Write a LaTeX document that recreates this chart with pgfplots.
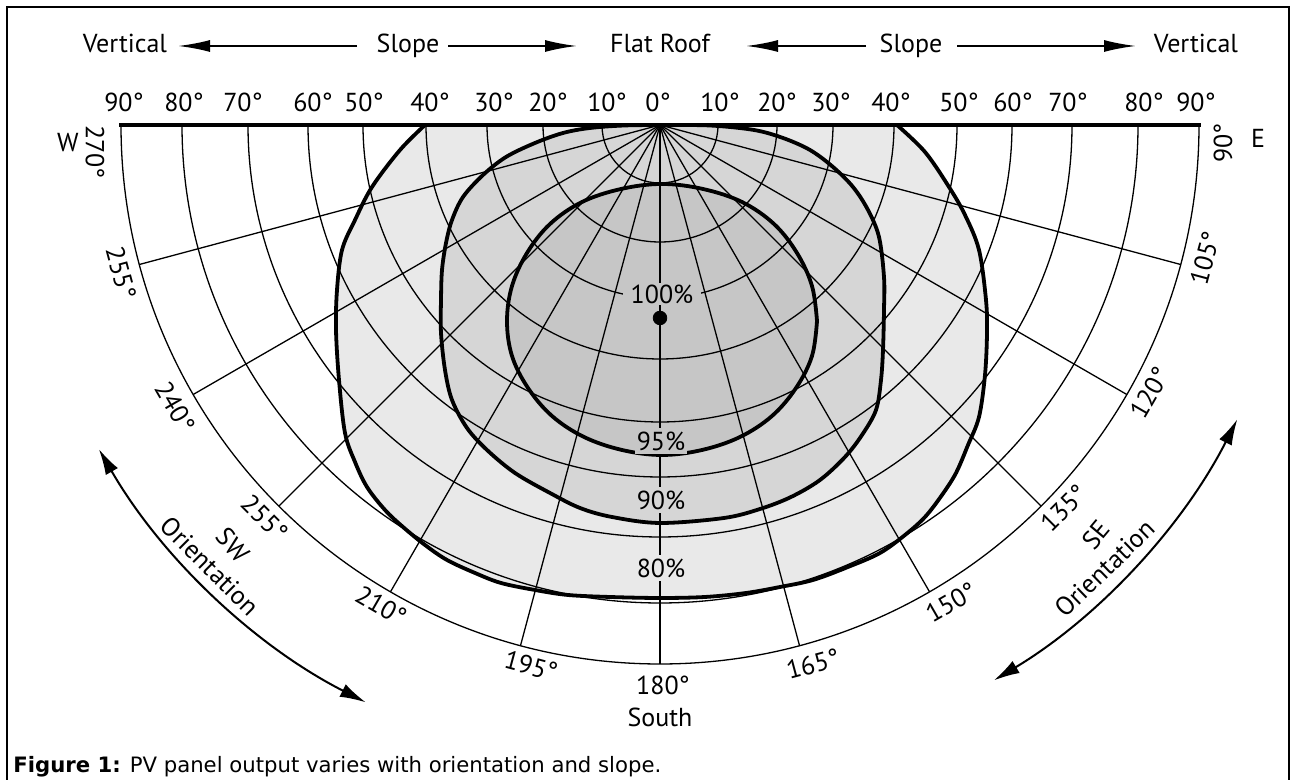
\documentclass[border=0pt]{standalone}
\usepackage{fontspec}
\setmainfont{PT Sans}
\newfontfamily\capfont{DejaVu Sans}
\usepackage{pgfplots}
\pgfplotsset{compat=1.18}
\usetikzlibrary{arrows.meta}
\definecolor{c80}{gray}{0.915}
\definecolor{c90}{gray}{0.84}
\definecolor{c95}{gray}{0.775}
\begin{document}
\begin{tikzpicture}[
  gridline/.style={black, line width=0.65pt},
  lab/.style={font=\fontsize{13}{15}\selectfont, inner sep=1pt},
]
\begin{axis}[
  x=0.5pt, y=0.5pt,
  xmin=-660, xmax=636, ymin=-655, ymax=125,
  enlargelimits=false, hide axis, clip=false,
]
% shaded regions with outlines
\addplot[draw=black, line width=1.9pt, fill=c80, smooth, tension=0.55] coordinates {
(-235,0) (-260,-25) (-288,-62) (-305,-95) (-318,-125) (-323,-165) (-324,-205) (-321,-255) (-315,-308) (-305,-337) (-293,-362) (-275,-385) (-257,-402) (-235,-420) (-213,-435) (-185,-448) (-159,-458) (-125,-465) (-92,-470) (-50,-472) (0,-473) (45,-472) (86,-468) (120,-462) (153,-455) (188,-442) (220,-428) (245,-410) (265,-392) (282,-370) (296,-348) (308,-320) (319,-292) (325,-250) (327,-208) (326,-175) (319,-125) (305,-90) (289,-62) (265,-27) (237,0)
} -- cycle;
\addplot[draw=black, line width=1.9pt, fill=c90, smooth, tension=0.55] coordinates {
(0,0) (-36,-0.5) (-70,-3) (-97,-8) (-125,-18) (-154,-32) (-177,-50) (-197,-72) (-208,-95) (-214,-118) (-218,-145) (-219,-175) (-219,-208) (-215,-245) (-208,-275) (-193,-303) (-173,-325) (-145,-348) (-110,-368) (-80,-383) (-48,-392) (0,-398) (64,-393) (100,-384) (131,-372) (160,-355) (185,-332) (202,-310) (216,-285) (221,-255) (223,-225) (224,-185) (224,-152) (219,-112) (208,-85) (193,-62) (173,-42) (150,-25) (123,-13) (94,-5) (50,-0.5) (0,0)
} -- cycle;
\addplot[draw=black, line width=1.9pt, fill=c95, smooth, tension=0.6] coordinates {
(157,-196) (152,-161) (137,-128) (114,-99) (82,-77) (43,-64) (2,-59) (-39,-64) (-78,-77) (-110,-99) (-133,-128) (-148,-161) (-153,-196) (-148,-231) (-132,-263) (-108,-291) (-76,-312) (-38,-325) (2,-330) (42,-325) (80,-312) (112,-291) (136,-263) (152,-231) (157,-196)
} -- cycle;
% grid: slope circles and orientation rays
\pgfplotsinvokeforeach{58,117,173,234,297,352,412,478,539}{
  \draw[gridline] (axis cs:-#1,0) arc[start angle=180, end angle=360, radius=#1*0.5pt];
}
\pgfplotsinvokeforeach{-15,-30,-45,-60,-75,-90,-105,-120,-135,-150,-165}{
  \draw[gridline] (axis cs:0,0) -- ++(#1:269.5pt);
}
% top line
\draw[black, line width=2pt] (axis cs:-541,0) -- (axis cs:541,0);
% centre dot
\addplot[only marks, mark=*, mark size=3.4pt, black] coordinates {(0,-193)};
% percentage labels
\node[lab, fill=c95, inner xsep=4pt] at (axis cs:2,-169) {100\%};
\node[lab, fill=c95, inner ysep=2pt] at (axis cs:1,-316) {95\%};
\node[lab, fill=c90, inner ysep=2pt] at (axis cs:1,-375) {90\%};
\node[lab, fill=c80, inner ysep=2pt] at (axis cs:1,-443) {80\%};
% title row
\node[lab, anchor=base] at (axis cs:-535,72) {Vertical};
\node[lab, anchor=base] at (axis cs:-252,72) {Slope};
\node[lab, anchor=base] at (axis cs:0,72) {Flat Roof};
\node[lab, anchor=base] at (axis cs:251,72) {Slope};
\node[lab, anchor=base] at (axis cs:536,72) {Vertical};
\draw[line width=1pt, -{Latex[length=16pt,width=6pt]}] (axis cs:-303,79) -- (axis cs:-482,79);
\draw[line width=1pt, -{Latex[length=16pt,width=6pt]}] (axis cs:-212,79) -- (axis cs:-83,79);
\draw[line width=1pt, -{Latex[length=16pt,width=6pt]}] (axis cs:206,79) -- (axis cs:86,79);
\draw[line width=1pt, -{Latex[length=16pt,width=6pt]}] (axis cs:297,79) -- (axis cs:476,79);
% slope tick labels
\node[lab, anchor=base] at (axis cs:-536,13) {90°};
\node[lab, anchor=base] at (axis cs:-476,13) {80°};
\node[lab, anchor=base] at (axis cs:-417,13) {70°};
\node[lab, anchor=base] at (axis cs:-347,13) {60°};
\node[lab, anchor=base] at (axis cs:-296,13) {50°};
\node[lab, anchor=base] at (axis cs:-230,13) {40°};
\node[lab, anchor=base] at (axis cs:-166,13) {30°};
\node[lab, anchor=base] at (axis cs:-112,13) {20°};
\node[lab, anchor=base] at (axis cs:-53,13) {10°};
\node[lab, anchor=base] at (axis cs:-2,13) {0°};
\node[lab, anchor=base] at (axis cs:60,13) {10°};
\node[lab, anchor=base] at (axis cs:117,13) {20°};
\node[lab, anchor=base] at (axis cs:171,13) {30°};
\node[lab, anchor=base] at (axis cs:231,13) {40°};
\node[lab, anchor=base] at (axis cs:299,13) {50°};
\node[lab, anchor=base] at (axis cs:353,13) {60°};
\node[lab, anchor=base] at (axis cs:408,13) {70°};
\node[lab, anchor=base] at (axis cs:484,13) {80°};
\node[lab, anchor=base] at (axis cs:536,13) {90°};
% orientation labels
\node[lab] at (axis cs:-592,-18) {W};
\node[lab] at (axis cs:598,-13) {E};
\node[lab, rotate=-90] at (axis cs:-565,-27) {270°};
\node[lab, rotate=-75] at (axis cs:-539,-148) {255°};
\node[lab, rotate=-60] at (axis cs:-485,-282) {240°};
\node[lab, rotate=-45] at (axis cs:-395,-393) {255°};
\node[lab, rotate=-30] at (axis cs:-279,-481) {210°};
\node[lab, rotate=-15] at (axis cs:-129,-541) {195°};
\node[lab] at (axis cs:3,-560) {180°};
\node[lab] at (axis cs:0,-592) {South};
\node[lab, rotate=15] at (axis cs:153,-539) {165°};
\node[lab, rotate=30] at (axis cs:291,-477) {150°};
\node[lab, rotate=45] at (axis cs:404,-383) {135°};
\node[lab, rotate=60] at (axis cs:490,-268) {120°};
\node[lab, rotate=75] at (axis cs:545,-133) {105°};
\node[lab, rotate=90] at (axis cs:563,-18) {90°};
\node[lab, rotate=-48] at (axis cs:-427,-420) {SW};
\node[lab, rotate=-45] at (axis cs:-450,-441) {Orientation};
\node[lab, rotate=50] at (axis cs:436,-410) {SE};
\node[lab, rotate=44] at (axis cs:445,-443) {Orientation};
% orientation arrows
\draw[line width=1pt, {Latex[length=13pt,width=7pt]}-{Latex[length=13pt,width=7pt]}] (axis cs:0,0) ++(-150:324pt) arc[start angle=-150, end angle=-117, radius=324pt];
\draw[line width=1pt, {Latex[length=13pt,width=7pt]}-{Latex[length=13pt,width=7pt]}] (axis cs:0,0) ++(-59:324pt) arc[start angle=-59, end angle=-27, radius=324pt];
% caption
\node[anchor=base west, inner sep=0pt, font=\capfont\fontsize{10.6}{12}\selectfont] at (axis cs:-647,-648) {\textbf{Figure 1:} PV panel output varies with orientation and slope.};
% frame
\draw[line width=1pt] (axis cs:-653,-670) -- (axis cs:-653,118) -- (axis cs:629,118) -- (axis cs:629,-670);
\coordinate (BL) at (axis cs:-660,-655);
\coordinate (TR) at (axis cs:636,125);
\end{axis}
\pgfresetboundingbox
\useasboundingbox (BL) rectangle (TR);
\end{tikzpicture}
\end{document}
